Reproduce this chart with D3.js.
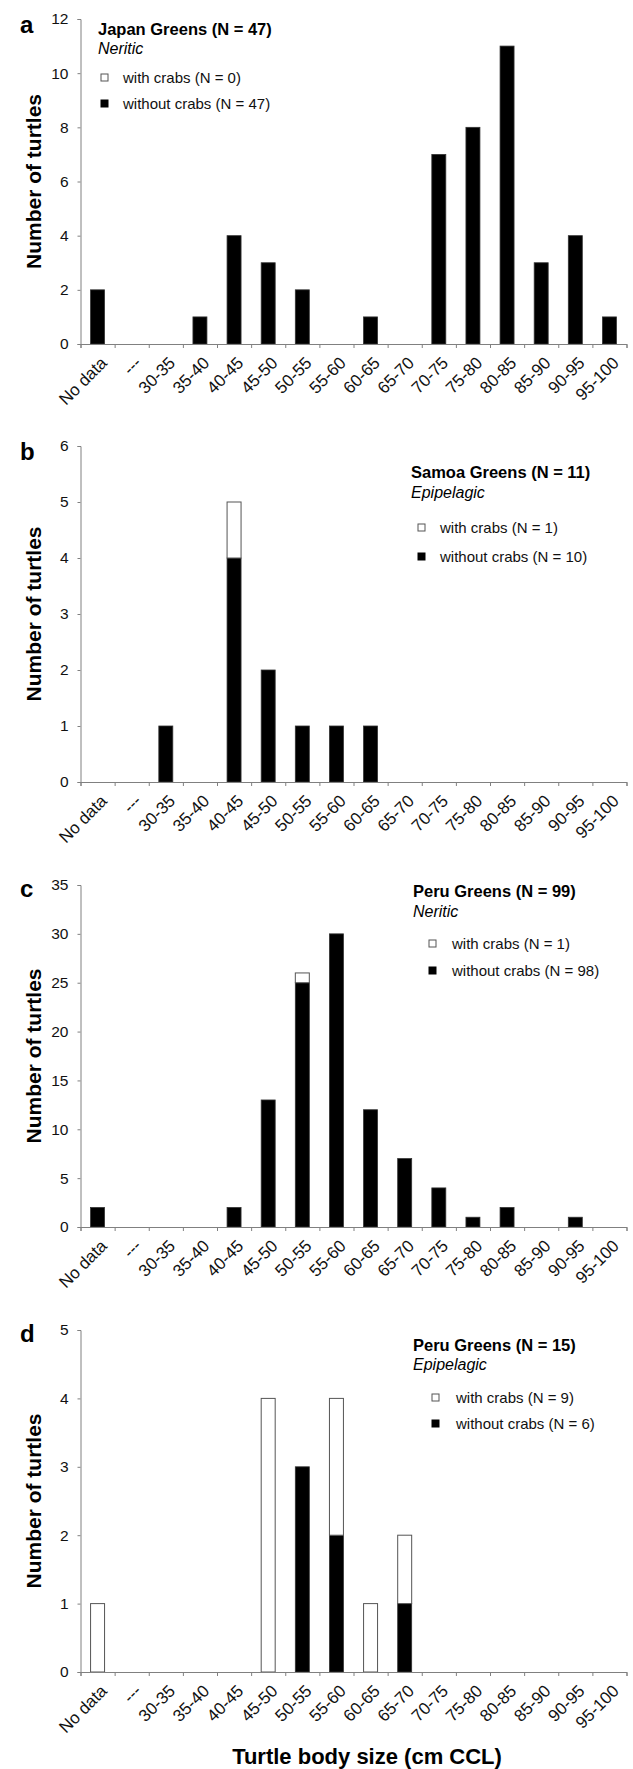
<!DOCTYPE html>
<html>
<head>
<meta charset="utf-8">
<script src="https://cdn.jsdelivr.net/npm/d3@7"></script>
<style>
  body { margin: 0; background: #fff; }
  svg { display: block; font-family: "Liberation Sans", Arial, sans-serif; }
</style>
</head>
<body>
<div id="chart"></div>
<script>

// size classes (cm CCL)
var categories = ["No data", "---", "30-35", "35-40", "40-45", "45-50", "50-55", "55-60",
                  "60-65", "65-70", "70-75", "75-80", "80-85", "85-90", "90-95", "95-100"];

// a: Japan greens, neritic
var japanWithout = [2, 0, 0, 1, 4, 3, 2, 0, 1, 0, 7, 8, 11, 3, 4, 1];
var japanWith    = [0, 0, 0, 0, 0, 0, 0, 0, 0, 0, 0, 0, 0, 0, 0, 0];
var japanTicks   = [0, 2, 4, 6, 8, 10, 12];

// b: Samoa greens, epipelagic
var samoaWithout = [0, 0, 1, 0, 4, 2, 1, 1, 1, 0, 0, 0, 0, 0, 0, 0];
var samoaWith    = [0, 0, 0, 0, 1, 0, 0, 0, 0, 0, 0, 0, 0, 0, 0, 0];
var samoaTicks   = [0, 1, 2, 3, 4, 5, 6];

// c: Peru greens, neritic
var peruNerWithout = [2, 0, 0, 0, 2, 13, 25, 30, 12, 7, 4, 1, 2, 0, 1, 0];
var peruNerWith    = [0, 0, 0, 0, 0, 0, 1, 0, 0, 0, 0, 0, 0, 0, 0, 0];
var peruNerTicks   = [0, 5, 10, 15, 20, 25, 30, 35];

// d: Peru greens, epipelagic
var peruEpiWithout = [0, 0, 0, 0, 0, 0, 3, 2, 0, 1, 0, 0, 0, 0, 0, 0];
var peruEpiWith    = [1, 0, 0, 0, 0, 4, 0, 2, 1, 1, 0, 0, 0, 0, 0, 0];
var peruEpiTicks   = [0, 1, 2, 3, 4, 5];

var panels = [
  { letter: "a", title: "Japan Greens (N = 47)", habitat: "Neritic",
    withLabel: "with crabs (N = 0)", withoutLabel: "without crabs (N = 47)",
    without: japanWithout, withC: japanWith, ticks: japanTicks,
    top: 19, bottom: 344, letterY: 33,
    leg: { x: 98, y: 35, habY: 54, items: [83, 109], sqX: 101, textX: 123 } },
  { letter: "b", title: "Samoa Greens (N = 11)", habitat: "Epipelagic",
    withLabel: "with crabs (N = 1)", withoutLabel: "without crabs (N = 10)",
    without: samoaWithout, withC: samoaWith, ticks: samoaTicks,
    top: 446, bottom: 782, letterY: 460,
    leg: { x: 411, y: 478, habY: 498, items: [533, 562], sqX: 418, textX: 440 } },
  { letter: "c", title: "Peru Greens (N = 99)", habitat: "Neritic",
    withLabel: "with crabs (N = 1)", withoutLabel: "without crabs (N = 98)",
    without: peruNerWithout, withC: peruNerWith, ticks: peruNerTicks,
    top: 885, bottom: 1227, letterY: 897,
    leg: { x: 413, y: 897, habY: 917, items: [949, 976], sqX: 429, textX: 452 } },
  { letter: "d", title: "Peru Greens (N = 15)", habitat: "Epipelagic",
    withLabel: "with crabs (N = 9)", withoutLabel: "without crabs (N = 6)",
    without: peruEpiWithout, withC: peruEpiWith, ticks: peruEpiTicks,
    top: 1330, bottom: 1672, letterY: 1342,
    leg: { x: 413, y: 1351, habY: 1370, items: [1403, 1429], sqX: 432, textX: 456 } }
];

var W = 633, H = 1769;
var left = 80.5, right = 626.5;
var axisColor = "#808080";

var svg = d3.select("#chart").append("svg")
            .attr("width", W)
            .attr("height", H);

var x = d3.scaleBand()
          .domain(categories)
          .range([left, right])
          .paddingInner(0.59)
          .paddingOuter(0.295);

// boundaries between size classes, where the ticks sit
var xb = d3.scaleLinear().domain([0, categories.length]).range([left, right]);

panels.forEach(function(p){

  var yMax = p.ticks[p.ticks.length - 1];

  var y = d3.scaleLinear()
            .domain([0, yMax])
            .range([p.bottom, p.top]);

  var g = svg.append("g");

  // panel letter
  g.append("text")
    .attr("x", 20)
    .attr("y", p.letterY)
    .attr("font-size", 24)
    .attr("font-weight", "bold")
    .text(p.letter);

  // y axis title
  g.append("text")
    .attr("transform", "translate(41," + ((p.top + p.bottom) / 2) + ") rotate(-90)")
    .attr("text-anchor", "middle")
    .attr("font-size", 21)
    .attr("font-weight", "bold")
    .text("Number of turtles");

  // bars: without crabs (black) at bottom, with crabs (white) stacked on top
  var rows = categories.map(function(c, i){
    return { cat: c, without: p.without[i], withC: p.withC[i] };
  });

  g.selectAll("rect.without")
    .data(rows.filter(function(d){ return d.without > 0; }))
    .enter().append("rect")
    .attr("class", "without")
    .attr("x", function(d){ return x(d.cat); })
    .attr("width", x.bandwidth())
    .attr("y", function(d){ return y(d.without); })
    .attr("height", function(d){ return y(0) - y(d.without); })
    .attr("fill", "#000")
    .attr("stroke", "#333")
    .attr("stroke-width", 0.8);

  g.selectAll("rect.with")
    .data(rows.filter(function(d){ return d.withC > 0; }))
    .enter().append("rect")
    .attr("class", "with")
    .attr("x", function(d){ return x(d.cat); })
    .attr("width", x.bandwidth())
    .attr("y", function(d){ return y(d.without + d.withC); })
    .attr("height", function(d){ return y(d.without) - y(d.without + d.withC); })
    .attr("fill", "#fff")
    .attr("stroke", "#555")
    .attr("stroke-width", 1);

  // y axis
  var ya = g.append("g")
            .attr("transform", "translate(" + left + ",0)")
            .call(d3.axisLeft(y).tickValues(p.ticks).tickSize(3).tickPadding(9).tickFormat(d3.format("d")));
  ya.select(".domain").attr("stroke", axisColor);
  ya.selectAll(".tick line").attr("stroke", axisColor);
  ya.selectAll(".tick text")
    .attr("font-size", 15.5)
    .attr("font-family", "Liberation Sans, Arial, sans-serif")
    .attr("fill", "#111");

  // x axis: ticks between classes
  var xt = g.append("g")
            .attr("transform", "translate(0," + p.bottom + ")")
            .call(d3.axisBottom(xb).tickValues(d3.range(categories.length + 1)).tickSize(4).tickFormat(""));
  xt.select(".domain").attr("stroke", axisColor);
  xt.selectAll(".tick line").attr("stroke", axisColor);

  // x axis labels, rotated
  var xl = g.append("g")
            .attr("transform", "translate(0," + p.bottom + ")")
            .call(d3.axisBottom(x).tickSize(0).tickPadding(0));
  xl.select(".domain").remove();
  xl.selectAll(".tick text")
    .attr("font-size", 17)
    .attr("font-family", "Liberation Sans, Arial, sans-serif")
    .attr("fill", "#111")
    .attr("text-anchor", "end")
    .attr("dy", null)
    .attr("y", 0)
    .attr("transform", "translate(10.5,20) rotate(-45)");

  // legend
  var L = p.leg;
  g.append("text")
    .attr("x", L.x)
    .attr("y", L.y)
    .attr("font-size", 16.5)
    .attr("font-weight", "bold")
    .text(p.title);

  g.append("text")
    .attr("x", L.x)
    .attr("y", L.habY)
    .attr("font-size", 16)
    .attr("font-style", "italic")
    .text(p.habitat);

  var items = [
    { label: p.withLabel, fill: "#fff", stroke: "#555" },
    { label: p.withoutLabel, fill: "#000", stroke: "#000" }
  ];

  var li = g.selectAll("g.leg")
            .data(items)
            .enter().append("g")
            .attr("class", "leg");

  li.append("rect")
    .attr("x", L.sqX)
    .attr("y", function(d, i){ return L.items[i] - 9; })
    .attr("width", 7)
    .attr("height", 7)
    .attr("fill", function(d){ return d.fill; })
    .attr("stroke", function(d){ return d.stroke; })
    .attr("stroke-width", 1);

  li.append("text")
    .attr("x", L.textX)
    .attr("y", function(d, i){ return L.items[i]; })
    .attr("font-size", 15)
    .attr("fill", "#111")
    .text(function(d){ return d.label; });

});

// shared x axis title
svg.append("text")
  .attr("x", 367)
  .attr("y", 1764)
  .attr("text-anchor", "middle")
  .attr("font-size", 22)
  .attr("font-weight", "bold")
  .text("Turtle body size (cm CCL)");

</script>
</body>
</html>
